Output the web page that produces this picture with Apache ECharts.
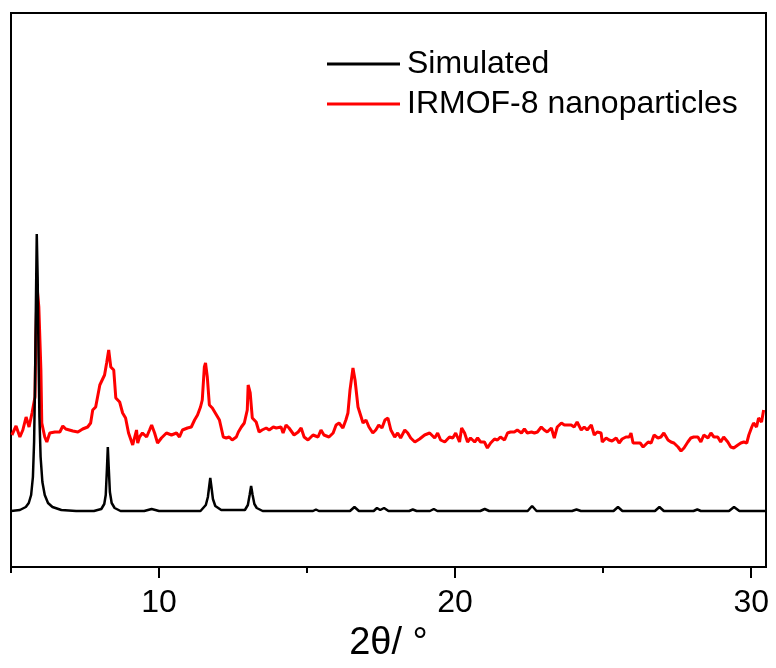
<!DOCTYPE html>
<html>
<head>
<meta charset="utf-8">
<script src="https://cdn.jsdelivr.net/npm/echarts@6/dist/echarts.min.js"></script>
<style>html,body{margin:0;padding:0;background:#fff;}#c{width:776px;height:668px;}</style>
</head>
<body>
<div id="c"></div>
<script>
// ---- data ----
const seriesNames = ['Simulated', 'IRMOF-8 nanoparticles'];
const tickLabels = [10, 20, 30];
const minorTicks = [5, 15, 25];

const simTheta = [5.0,5.3,5.5,5.6,5.68,5.74,5.78,5.81,5.84,5.87,5.9,5.93,5.96,6.0,6.06,6.14,6.25,6.4,6.7,7.2,
  7.8,8.05,8.15,8.2,8.24,8.27,8.3,8.34,8.4,8.5,8.7,9.5,9.75,10.0,
  11.4,11.58,11.65,11.7,11.73,11.77,11.82,11.9,12.1,
  12.9,13.0,13.06,13.11,13.16,13.22,13.3,13.5,
  15.2,15.3,15.4,16.45,16.6,16.75,17.25,17.36,17.47,17.6,17.75,18.45,18.57,18.7,19.15,19.28,19.4,
  20.85,21.0,21.15,22.45,22.6,22.75,23.95,24.1,24.25,25.35,25.5,25.65,26.75,26.9,27.05,
  28.05,28.18,28.3,29.25,29.42,29.6,30.5];
const simIntensity = [56,57,60,64,72,90,125,180,260,333,290,210,150,110,85,72,64,60,57,56,
  56,58,63,72,98,120,100,75,64,59,56,56,58,56,
  56,62,70,82,89,80,68,61,57,
  57,62,72,81,72,63,59,56,
  56,57.5,56,56,60,56,56,59,57,59,56,56,57.5,56,56,58,56,
  56,58,56,56,61,56,56,57.5,56,56,60,56,56,60,56,
  56,57.5,56,56,60,56,56];

const irTheta = [5.03,5.17,5.30,5.40,5.51,5.61,5.71,5.81,5.84,5.88,5.94,6.01,6.04,6.14,6.21,6.31,6.48,6.65,6.75,6.85,
  7.09,7.26,7.42,7.59,7.69,7.76,7.86,8.00,8.16,8.23,8.30,8.37,8.47,8.54,8.67,8.77,8.87,8.97,9.11,9.24,
  9.28,9.34,9.44,9.58,9.68,9.75,9.85,9.95,10.08,10.25,10.42,10.59,10.69,10.79,10.96,11.09,11.20,11.30,11.40,11.46,
  11.53,11.57,11.63,11.70,11.80,11.94,12.04,12.10,12.17,12.27,12.37,12.47,12.61,12.68,12.78,12.88,12.98,13.01,13.08,13.15,
  13.28,13.38,13.48,13.62,13.72,13.86,13.96,14.12,14.19,14.29,14.39,14.56,14.70,14.80,14.90,15.03,15.20,15.37,15.47,15.57,
  15.74,15.88,15.98,16.08,16.21,16.31,16.38,16.45,16.55,16.62,16.72,16.78,16.89,16.99,17.09,17.22,17.32,17.42,17.53,17.63,
  17.73,17.83,17.96,18.06,18.16,18.30,18.40,18.50,18.64,18.80,18.97,19.14,19.31,19.41,19.51,19.65,19.81,19.92,20.02,20.15,
  20.22,20.32,20.42,20.52,20.66,20.76,20.86,20.99,21.09,21.20,21.33,21.43,21.53,21.67,21.77,21.87,22.00,22.10,22.24,22.34,
  22.44,22.58,22.68,22.78,22.91,23.01,23.11,23.25,23.35,23.45,23.59,23.69,23.79,23.92,24.02,24.12,24.26,24.36,24.46,24.60,
  24.70,24.80,24.93,24.97,25.10,25.20,25.30,25.44,25.54,25.64,25.77,25.88,25.94,26.01,26.14,26.25,26.35,26.52,26.62,26.72,
  26.85,26.95,27.05,27.19,27.29,27.39,27.53,27.63,27.73,27.86,27.96,28.06,28.20,28.30,28.40,28.54,28.64,28.74,28.87,28.97,
  29.07,29.21,29.31,29.41,29.55,29.65,29.75,29.85,29.92,30.02,30.08,30.18,30.25,30.35,30.42];
const irIntensity = [132,141,130,137,150,140,154,170,230,280,260,197,144,130,125,134,135,135,141,138,
  136,135,138,140,144,157,160,182,192,204,217,200,197,169,165,154,149,134,122,137,
  124,130,134,130,137,142,134,124,129,134,132,134,130,137,139,140,147,152,160,167,
  200,204,190,162,159,152,147,149,130,129,130,127,130,135,140,144,157,182,174,149,
  145,135,137,139,137,140,139,140,134,142,139,132,135,139,130,127,132,130,137,132,
  130,134,142,144,139,147,154,177,199,187,160,159,144,147,140,134,137,142,139,147,
  149,137,130,134,129,137,134,129,125,128,132,134,129,134,127,125,130,129,134,125,
  139,134,125,129,125,129,125,125,119,124,128,127,130,127,134,135,135,137,134,138,
  134,135,134,135,140,137,135,139,129,140,144,142,142,142,140,145,137,140,137,142,
  132,135,134,125,129,127,126,129,124,128,130,130,134,124,124,124,120,125,124,132,
  129,130,134,127,125,124,120,116,119,125,129,130,130,125,132,129,134,130,130,125,
  130,125,120,119,122,124,125,124,132,140,144,140,149,145,157];

const simData = simTheta.map((t, i) => [t, simIntensity[i]]);
const irData = irTheta.map((t, i) => [t, irIntensity[i]]);

const chart = echarts.init(document.getElementById('c'), null, {renderer: 'canvas'});
const FONT = '"Liberation Sans", Arial, sans-serif';
chart.setOption({
  animation: false,
  backgroundColor: '#ffffff',
  grid: {left: 11, right: 10, top: 13, bottom: 101, show: true, borderColor: '#000', borderWidth: 2,
         backgroundColor: 'transparent', containLabel: false, outerBoundsMode: 'none'},
  legend: {
    orient: 'vertical', left: 322, top: 43,
    itemWidth: 73, itemHeight: 3, itemGap: 8,
    icon: 'rect',
    textStyle: {fontSize: 32, fontFamily: FONT, color: '#000', padding: [0, 0, 0, 2]},
    data: [
      {name: seriesNames[0], itemStyle: {color: '#000'}},
      {name: seriesNames[1], itemStyle: {color: '#ff0000'}}
    ]
  },
  xAxis: [{
    type: 'value', min: 5, max: 30.5, interval: 5,
    axisLine: {show: true, lineStyle: {color: '#000', width: 2}},
    axisTick: {show: true, inside: false, length: 11, lineStyle: {color: '#000', width: 2}, customValues: tickLabels},
    axisLabel: {show: true, margin: 20, fontSize: 32, fontFamily: FONT, color: '#000', customValues: tickLabels},
    splitLine: {show: false},
    name: '2θ/ °', nameLocation: 'middle', nameGap: 58,
    nameTextStyle: {fontSize: 38, fontFamily: FONT, color: '#000'}
  }, {
    type: 'value', min: 5, max: 30.5, interval: 5, position: 'bottom',
    axisLine: {show: false},
    axisTick: {show: true, inside: false, length: 6, lineStyle: {color: '#000', width: 2}, customValues: minorTicks},
    axisLabel: {show: false},
    splitLine: {show: false}
  }],
  yAxis: {
    type: 'value', min: 0, max: 554, show: false, splitLine: {show: false}
  },
  series: [
    {name: seriesNames[0], type: 'line', data: simData, showSymbol: false, symbol: 'none',
     lineStyle: {color: '#000', width: 2.5}, itemStyle: {color: '#000'}, z: 3},
    {name: seriesNames[1], type: 'line', data: irData, showSymbol: false, symbol: 'none',
     lineStyle: {color: '#ff0000', width: 3}, itemStyle: {color: '#ff0000'}, z: 2}
  ]
});
</script>
</body>
</html>
